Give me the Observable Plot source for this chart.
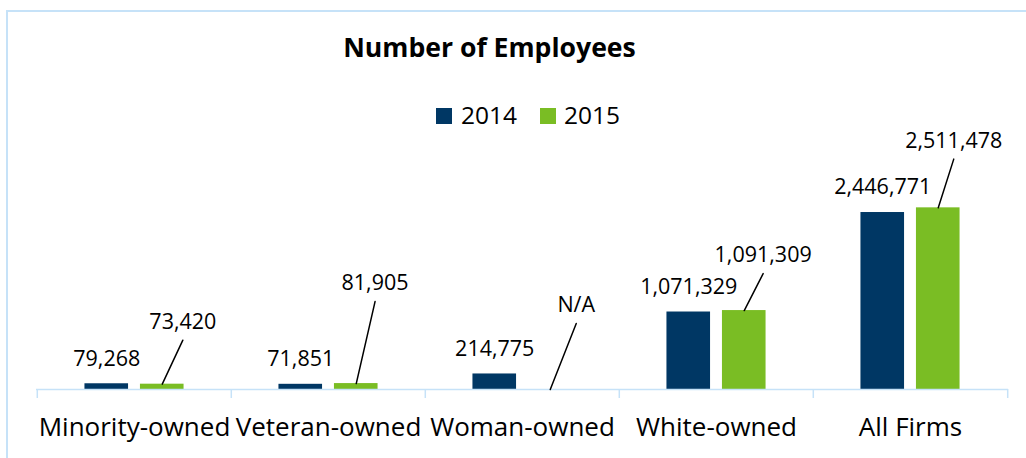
<!DOCTYPE html>
<html><head><meta charset="utf-8">
<script src="https://cdn.jsdelivr.net/npm/d3@7"></script>
<script src="https://cdn.jsdelivr.net/npm/@observablehq/plot@0.6"></script>
<style>
body{margin:0;background:#fff;font-family:"Open Sans",sans-serif;color:#000;}
#wrap{position:relative;width:1026px;height:458px;overflow:hidden;background:#fff;}
#frame{position:absolute;left:6px;top:10px;width:1100px;height:600px;border:2px solid #c6e2f8;box-sizing:border-box;}
#title{position:absolute;left:0;width:979px;top:29px;text-align:center;font-weight:700;font-size:26.6px;line-height:36px;}
.sw{position:absolute;width:16px;height:16px;top:108px;}
.lt{position:absolute;top:100px;font-size:24.5px;line-height:30px;}
#chart{position:absolute;left:0;top:130px;}
</style></head>
<body><div id="wrap"><div id="frame"></div><div id="title"></div><div id="legend"></div><div id="chart"></div></div>
<script>
// ---- data ----
const title = "Number of Employees";
const categories = ["Minority-owned", "Veteran-owned", "Woman-owned", "White-owned", "All Firms"];
const years = ["2014", "2015"];
const values2014 = [79268, 71851, 214775, 1071329, 2446771];
const values2015 = [73420, 81905, null, 1091309, 2511478];
const missingLabel = "N/A";

// ---- style / layout ----
const colors = {"2014": "#003764", "2015": "#7abd24"};
const axisColor = "#c6e2f8";
const W = 1026, H = 328, mL = 36, mR = 18, mT = 42, mB = 69;
const bw = (W - mL - mR) / categories.length;
const barW = 44, off = 27.75;
const insL = o => bw / 2 + o - barW / 2;
const insR = o => bw - insL(o) - barW;
// label offsets (px) of 2015 labels relative to the bar top centre
const leader2015 = [[20.6, -62], [18.8, -100], [26, -84], [18.9, -55], [15.5, -66.7]];
const leaderGap = 18;

const fmt = d3.format(",");
const rows = categories.map((c, i) => ({cat: c, v2014: values2014[i], v2015: values2015[i]}));

document.getElementById("title").textContent = title;
const legend = document.getElementById("legend");
const swX = [436, 540], txX = [461, 564];
years.forEach((y, i) => {
  const s = document.createElement("div");
  s.className = "sw"; s.style.left = swX[i] + "px"; s.style.background = colors[y];
  const t = document.createElement("div");
  t.className = "lt"; t.style.left = txX[i] + "px"; t.textContent = y;
  legend.append(s, t);
});

const lineShape = {draw(ctx, l) { ctx.moveTo(0, 0); ctx.lineTo(0, -l); }};

const marks = [
  Plot.barY(rows, {x: "cat", y: "v2014", fill: colors["2014"], insetLeft: insL(-off), insetRight: insR(-off)}),
  Plot.barY(rows, {x: "cat", y: "v2015", fill: colors["2015"], insetLeft: insL(off), insetRight: insR(off)}),
  Plot.ruleY([0], {stroke: axisColor, strokeWidth: 1.5}),
  Plot.ruleX(categories, {x: d => d, y1: 0, y2: 0, insetBottom: -9, dx: -bw / 2, stroke: axisColor, strokeWidth: 1.5}),
  Plot.ruleX(categories.slice(-1), {x: d => d, y1: 0, y2: 0, insetBottom: -9, dx: bw / 2, stroke: axisColor, strokeWidth: 1.5}),
  Plot.text(rows, {x: "cat", y: "v2014", text: d => fmt(d.v2014), dx: -off, dy: -25, fontSize: 21.5, fill: "#000"})
];
rows.forEach((r, i) => {
  const [tx, ty] = leader2015[i];
  const ex = tx, ey = ty + leaderGap;
  const one = [r];
  marks.push(Plot.vector(one, {
    x: "cat", y: d => d.v2015 ?? 0, dx: off, anchor: "start",
    rotate: Math.atan2(ex, -ey) * 180 / Math.PI, length: Math.hypot(ex, ey),
    shape: lineShape, stroke: "#000", strokeWidth: 1.5
  }));
  marks.push(Plot.text(one, {
    x: "cat", y: d => d.v2015 ?? 0, text: d => d.v2015 == null ? missingLabel : fmt(d.v2015),
    dx: off + tx, dy: ty, fontSize: 21.5, fill: "#000"
  }));
});

const chart = Plot.plot({
  width: W, height: H, marginLeft: mL, marginRight: mR, marginTop: mT, marginBottom: mB,
  style: {fontFamily: "Open Sans, sans-serif", fontSize: "26px", color: "#000", background: "transparent", overflow: "visible"},
  x: {domain: categories, padding: 0, tickSize: 0, tickPadding: 28, label: null},
  y: {domain: [0, 3000000], axis: null},
  marks
});
document.getElementById("chart").append(chart);
</script>
</body></html>
